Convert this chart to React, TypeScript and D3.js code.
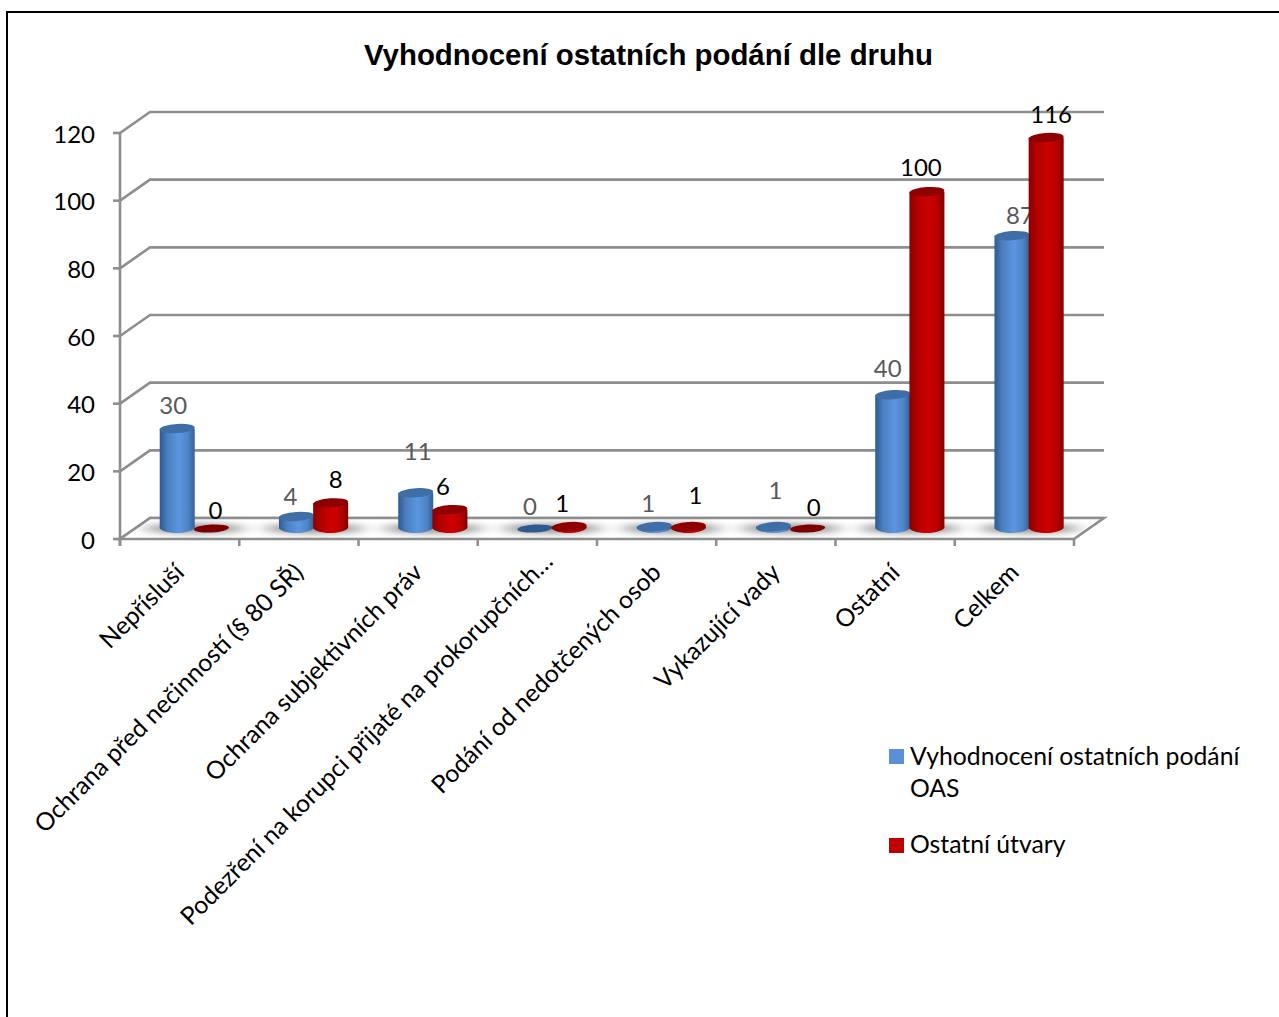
import React from "react";
import * as d3 from "d3";

const categories = [
  "Nepřísluší",
  "Ochrana před nečinností (§ 80 SŘ)",
  "Ochrana subjektivních práv",
  "Podezření na korupci přijaté na prokorupčních…",
  "Podání od nedotčených osob",
  "Vykazující vady",
  "Ostatní",
  "Celkem",
];
const oasValues = [30, 4, 11, 0, 1, 1, 40, 87];
const otherValues = [0, 8, 6, 1, 1, 0, 100, 116];
const yTicks = [0, 20, 40, 60, 80, 100, 120];
const titleText = "Vyhodnocení ostatních podání dle druhu";
const seriesNames = [["Vyhodnocení ostatních podání", "OAS"], ["Ostatní útvary"]];

// manually placed data labels in the source chart (px from bar top-centre)
const oasLabelNudge = [[-4, -23], [-6, -19.5], [2, -40.5], [-5, -23.5], [-6, -23], [2, -35.5], [-5, -26], [8, -19.5]];
const otherLabelNudge = [[4, -19.5], [5, -22.5], [-7, -23], [-7, -23], [7, -30.5], [6, -22.5], [-6, -24], [5, -23]];
// the truncated label sits further along its baseline in the source
const categoryLabelShift = [0, 0, 0, 11, 0, 0, 0, 0];

const W = 1279, H = 1017;
const depthX = 30, depthY = 21;
const FONT = "Lato, Carlito, Calibri, sans-serif";

const x = d3.scaleBand<number>().domain(categories.map((_, i) => i)).range([120, 1074]);
const y = d3.scaleLinear().domain([0, 120]).range([539, 133]);
const barW = 35, ry = 4.6;
const baseShift = [15, -10.5];
const topDrop = 1.5;

function Bar({ cx, v, side, pal }: any) {
  const base = y(0) + baseShift[1];
  const top = y(v) + baseShift[1] + topDrop;
  const l = cx - barW / 2, r = cx + barW / 2;
  if (v === 0) {
    return <ellipse cx={cx} cy={base} rx={barW / 2} ry={ry - 0.6} fill={pal.zero} transform={`rotate(-3 ${cx} ${base})`} />;
  }
  const path = d3.path();
  path.moveTo(l, top);
  path.lineTo(l, base);
  path.bezierCurveTo(l + 6, base + ry + 1.5, r - 6, base + ry + 1.5, r, base - 0.5);
  path.lineTo(r, top);
  path.closePath();
  return (
    <g>
      <path d={path.toString()} fill={`url(#${side})`} />
      <ellipse cx={cx} cy={top} rx={barW / 2} ry={ry} fill={pal.top} transform={`rotate(-4 ${cx} ${top})`} />
    </g>
  );
}

export default function App() {
  const centers = categories.map((_, i) => x(i)! + x.bandwidth() / 2 + baseShift[0]);
  const oasPal = { top: "#3f6ea6", zero: "#2f5a8f" };
  const otherPal = { top: "#8f0000", zero: "#7c0000" };
  const floorPts = [
    [x.range()[0], y(0)],
    [x.range()[1], y(0)],
    [x.range()[1] + depthX, y(0) - depthY],
    [x.range()[0] + depthX, y(0) - depthY],
  ];
  const floor = d3.line()(floorPts as any) + "Z";
  const axisColor = "#8e8e8e";
  const lw = 2.6;
  const series = [
    { vals: oasValues, off: -17.4, side: "gb", pal: oasPal, nudge: oasLabelNudge, color: "#595959" },
    { vals: otherValues, off: 16.8, side: "gr", pal: otherPal, nudge: otherLabelNudge, color: "#000000" },
  ];
  return (
    <svg width={W} height={H} viewBox={`0 0 ${W} ${H}`} style={{ position: "absolute", left: 0, top: 0, background: "#fff" }}>
      <defs>
        <linearGradient id="gb" x1="0" x2="1" y1="0" y2="0">
          <stop offset="0" stopColor="#2f5a8f" />
          <stop offset="0.22" stopColor="#4a7fbe" />
          <stop offset="0.55" stopColor="#5b96e0" />
          <stop offset="0.8" stopColor="#4f86c8" />
          <stop offset="1" stopColor="#33609a" />
        </linearGradient>
        <linearGradient id="gr" x1="0" x2="1" y1="0" y2="0">
          <stop offset="0" stopColor="#8a0000" />
          <stop offset="0.25" stopColor="#b50000" />
          <stop offset="0.55" stopColor="#cf0000" />
          <stop offset="0.8" stopColor="#b80000" />
          <stop offset="1" stopColor="#820000" />
        </linearGradient>
        <filter id="blur" x="-40%" y="-200%" width="180%" height="500%">
          <feGaussianBlur stdDeviation="9 3" />
        </filter>
        <clipPath id="floorClip"><path d={floor} /></clipPath>
      </defs>

      <rect x={7} y={12} width={W + 20} height={H + 20} fill="none" stroke="#000" strokeWidth={2} />

      <text x={648.5} y={65} textAnchor="middle" fontFamily="Liberation Sans, Arial, sans-serif" fontWeight={700} fontSize={29.4} fill="#000">
        {titleText}
      </text>

      {/* back wall grid */}
      {yTicks.map((t) => (
        <path key={t} d={`M${x.range()[0]},${y(t)}L${x.range()[0] + depthX},${y(t) - depthY}H${x.range()[1] + depthX}`} fill="none" stroke={axisColor} strokeWidth={lw} />
      ))}
      <path d={floor} fill="#fff" stroke={axisColor} strokeWidth={lw} />
      <line x1={x.range()[0]} x2={x.range()[0]} y1={y(120)} y2={y(0) + 7} stroke={axisColor} strokeWidth={lw} />
      {yTicks.map((t) => (
        <g key={t}>
          <line x1={x.range()[0] - 7} x2={x.range()[0]} y1={y(t)} y2={y(t)} stroke={axisColor} strokeWidth={lw} />
          <text x={95} y={y(t) + 9.5} textAnchor="end" fontFamily={FONT} fontSize={24} fill="#000">{t}</text>
        </g>
      ))}
      {categories.map((_, i) => (
        <line key={i} x1={x(i)!} x2={x(i)!} y1={y(0)} y2={y(0) + 7} stroke={axisColor} strokeWidth={lw} />
      ))}
      <line x1={x.range()[1]} x2={x.range()[1]} y1={y(0)} y2={y(0) + 7} stroke={axisColor} strokeWidth={lw} />

      {/* floor shadows */}
      <g clipPath="url(#floorClip)">
        {categories.map((_, i) => (
          <ellipse key={i} cx={centers[i]} cy={y(0) + baseShift[1]} rx={50} ry={5} fill="#000" opacity={0.42} filter="url(#blur)" />
        ))}
      </g>

      {series.map((s) => (
        <g key={s.side}>
          {s.vals.map((v, i) => (
            <g key={i}>
              <Bar cx={centers[i] + s.off} v={v} side={s.side} pal={s.pal} />
              <text
                x={centers[i] + s.off + s.nudge[i][0]}
                y={y(v) + baseShift[1] + topDrop + s.nudge[i][1] + 8}
                textAnchor="middle"
                fontFamily={FONT}
                fontSize={24}
                fill={s.color}
              >
                {v}
              </text>
            </g>
          ))}
        </g>
      ))}

      {categories.map((c, i) => (
        <text
          key={c}
          transform={`translate(${x(i)! + x.bandwidth() / 2 + 6 + categoryLabelShift[i]},${y(0) + 35 - categoryLabelShift[i]}) rotate(-45)`}
          textAnchor="end"
          fontFamily={FONT}
          fontSize={24.7}
          fill="#000"
        >
          {c}
        </text>
      ))}

      <rect x={889} y={749} width={15} height={15} fill="#5b8fd6" />
      <text x={910} y={765} fontFamily={FONT} fontSize={24.75} fill="#000">{seriesNames[0][0]}</text>
      <text x={910} y={797} fontFamily={FONT} fontSize={24.75} fill="#000">{seriesNames[0][1]}</text>
      <rect x={889} y={838} width={15} height={15} fill="#c00000" />
      <text x={910} y={853} fontFamily={FONT} fontSize={24.75} fill="#000">{seriesNames[1][0]}</text>
    </svg>
  );
}
